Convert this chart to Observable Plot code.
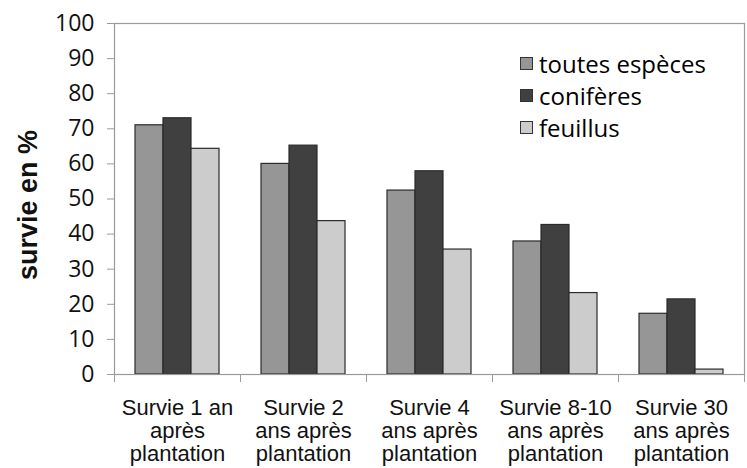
<!DOCTYPE html>
<html><head><meta charset="utf-8">
<script src="https://cdn.jsdelivr.net/npm/d3@7"></script>
<script src="https://cdn.jsdelivr.net/npm/@observablehq/plot@0.6"></script>
<style>
body{margin:0;background:#fff}
#chart{position:relative;width:747px;height:468px;background:#fff}
.legend{position:absolute;left:520px;top:47px;font-family:"Open Sans",sans-serif;font-size:24px;color:#000}
.legend .row{display:flex;align-items:center;height:32px;white-space:nowrap}
.legend .sw{display:inline-block;width:11px;height:11px;border:1px solid #333;margin-right:6px;box-sizing:content-box}
</style></head><body><div id="chart"></div>
<script>
const groups = ["Survie 1 an après plantation","Survie 2 ans après plantation","Survie 4 ans après plantation","Survie 8-10 ans après plantation","Survie 30 ans après plantation"];
const groupLabels = ["Survie 1 an\naprès\nplantation","Survie 2\nans après\nplantation","Survie 4\nans après\nplantation","Survie 8-10\nans après\nplantation","Survie 30\nans après\nplantation"];
const series = ["toutes espèces","conifères","feuillus"];
const toutesEspeces = [71, 60, 52.4, 37.9, 17.3];
const coniferes = [73, 65.2, 57.9, 42.6, 21.4];
const feuillus = [64.3, 43.7, 35.6, 23.2, 1.4];
const colors = ["#969696","#404040","#cccccc"];
const yTicks = [0,10,20,30,40,50,60,70,80,90,100];
const yLabel = "survie en %";

const seriesValues = [toutesEspeces, coniferes, feuillus];
const data = groups.flatMap((g, i) => series.map((s, j) => ({group: g, series: s, value: seriesValues[j][i]})));
const labelOf = new Map(groups.map((g, i) => [g, groupLabels[i]]));

const chart = Plot.plot({
  width: 747, height: 468,
  marginLeft: 112, marginRight: 2, marginTop: 23, marginBottom: 94,
  style: {background: "#fff", overflow: "visible"},
  fx: {domain: groups, padding: 0, label: null, axis: null},
  x: {domain: series, axis: null, paddingInner: 0, paddingOuter: 0.72},
  y: {domain: [0, 100], axis: null},
  color: {domain: series, range: colors},
  marks: [
    Plot.barY(data, {fx: "group", x: "series", y: "value", fill: "series", stroke: "#2b2b2b", strokeWidth: 1.2}),
    Plot.frame({facet: "super", stroke: "#9a9a9a", strokeWidth: 1.2}),
    Plot.frame({anchor: "left", insetTop: 351, insetBottom: -7, stroke: "#9a9a9a"}),
    Plot.frame({anchor: "right", insetTop: 351, insetBottom: -7, stroke: "#9a9a9a"}),
    Plot.axisY({ticks: yTicks, tickSize: 7, tickPadding: 13, fontSize: 23, fontFamily: "Open Sans", stroke: "#9a9a9a", fill: "#111", label: null, tickFormat: d => String(d)}),
    Plot.axisFx({anchor: "bottom", tickSize: 0, tickPadding: 24, fontSize: 22, fontFamily: "Liberation Sans", lineHeight: 1.04, fill: "#111", label: null, tickFormat: d => labelOf.get(d)}),
    Plot.text([yLabel], {facet: "super", frameAnchor: "left", textAnchor: "middle", rotate: -90, dx: -86, dy: 6, fontSize: 27, fontWeight: "bold", fontFamily: "Liberation Sans", fill: "#111"})
  ]
});
const root = document.getElementById("chart");
root.appendChild(chart);

const legend = document.createElement("div");
legend.className = "legend";
series.forEach((s, i) => {
  const row = document.createElement("div");
  row.className = "row";
  const sw = document.createElement("span");
  sw.className = "sw";
  sw.style.background = colors[i];
  row.appendChild(sw);
  row.appendChild(document.createTextNode(s));
  legend.appendChild(row);
});
root.appendChild(legend);
</script></body></html>
